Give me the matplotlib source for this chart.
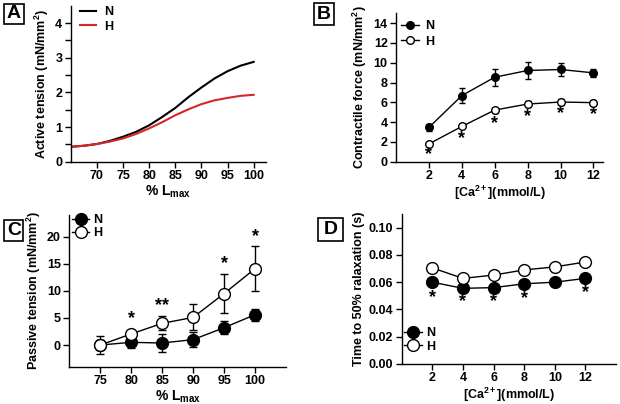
import matplotlib
matplotlib.use("Agg")
import matplotlib.pyplot as plt
from matplotlib.patches import Rectangle
from matplotlib.lines import Line2D

plt.rcParams['font.family'] = ['Liberation Sans', 'DejaVu Sans']
plt.rcParams['font.weight'] = 'bold'
plt.rcParams['axes.labelweight'] = 'bold'
plt.rcParams['mathtext.fontset'] = 'custom'
plt.rcParams['mathtext.rm'] = 'Liberation Sans:bold'
plt.rcParams['mathtext.it'] = 'Liberation Sans:bold'
plt.rcParams['mathtext.bf'] = 'Liberation Sans:bold'

# ---------------- Data ----------------
# Panel A: active tension vs % Lmax
a_x = [65, 67.5, 70, 72.5, 75, 77.5, 80, 82.5, 85, 87.5, 90, 92.5, 95, 97.5, 100]
a_N = [0.43, 0.46, 0.51, 0.60, 0.72, 0.86, 1.05, 1.29, 1.55, 1.86, 2.14, 2.40, 2.61, 2.77, 2.88]
a_H = [0.43, 0.46, 0.51, 0.58, 0.67, 0.80, 0.96, 1.14, 1.34, 1.51, 1.66, 1.77, 1.84, 1.90, 1.93]

# Panel B: contractile force vs [Ca2+]
b_x = [2, 4, 6, 8, 10, 12]
b_N = [3.46, 6.68, 8.54, 9.22, 9.32, 8.98]
b_N_err = [0.40, 0.77, 0.87, 0.86, 0.61, 0.42]
b_H = [1.80, 3.56, 5.22, 5.83, 6.03, 5.97]
b_H_err = [0.15, 0.15, 0.25, 0.30, 0.30, 0.25]
b_star_y = [0.75, 2.37, 3.90, 4.58, 4.85, 4.78]

# Panel C: passive tension vs % Lmax
c_x = [75, 80, 85, 90, 95, 100]
c_N = [0.0, 0.5, 0.37, 1.0, 3.2, 5.6]
c_N_err = [1.0, 1.1, 1.6, 1.4, 1.2, 1.1]
c_H = [0.0, 2.05, 4.0, 5.1, 9.5, 14.1]
c_H_err = [1.6, 0.5, 1.3, 2.4, 3.6, 4.2]
c_star_x = [80, 85, 95, 100]
c_star_txt = ['*', '**', '*', '*']
c_star_y = [4.8, 7.2, 15.0, 20.1]

# Panel D: time to 50% relaxation vs [Ca2+]
d_x = [2, 4, 6, 8, 10, 12]
d_N = [0.0600, 0.0555, 0.0560, 0.0588, 0.0600, 0.0628]
d_H = [0.0705, 0.0628, 0.0652, 0.0690, 0.0712, 0.0748]
d_star_x = [2, 4, 6, 8, 12]
d_star_y = [0.0485, 0.0460, 0.0455, 0.0480, 0.0525]

# ---------------- Figure ----------------
W, H = 620, 404
fig = plt.figure(figsize=(6.2, 4.04), dpi=100)

def ax_px(l, r, t, b):
    return fig.add_axes([l / W, 1 - b / H, (r - l) / W, (b - t) / H])

TICK_FS = 9
LAB_FS = 9
STAR_FS = 13

def style(ax):
    for s in ['top', 'right']:
        ax.spines[s].set_visible(False)
    for s in ['left', 'bottom']:
        ax.spines[s].set_linewidth(1.0)
    ax.tick_params(direction='out', length=4, width=1.0, labelsize=TICK_FS, pad=2)
    ax.tick_params(which='minor', direction='out', length=4, width=1.0)
    for lab in ax.get_xticklabels() + ax.get_yticklabels():
        lab.set_fontweight('bold')

def panel_label(x, y, w, h, txt):
    fig.patches.append(Rectangle((x / W, 1 - (y + h) / H), w / W, h / H,
                                 transform=fig.transFigure, fill=False,
                                 edgecolor='black', linewidth=1.2))
    fig.text((x + w / 2) / W, 1 - (y + h / 2) / H, txt, ha='center', va='center',
             fontsize=14, fontweight='bold')

def mk_handles(ms):
    return [Line2D([], [], color='black', lw=1.0, marker='o', ms=ms, mfc='black', mec='black'),
            Line2D([], [], color='black', lw=1.0, marker='o', ms=ms, mfc='white', mec='black')]

# Panel A
axA = ax_px(70.7, 265.7, 5.7, 161.7)
axA.plot(a_x, a_N, color='black', lw=1.5, label='N')
axA.plot(a_x, a_H, color='#d62728', lw=1.5, label='H')
axA.set_xlim(65, 102.3)
axA.set_ylim(0, 4.5)
axA.set_xticks([70, 75, 80, 85, 90, 95, 100])
axA.set_yticks([0, 1, 2, 3, 4])
axA.set_yticks([0.5, 1.5, 2.5, 3.5], minor=True)
axA.set_ylabel('Active tension (mN/mm$^2$)', fontsize=LAB_FS, labelpad=3)
axA.set_xlabel('% L$_{max}$', fontsize=LAB_FS + 1, labelpad=1)
axA.legend(loc='upper left', bbox_to_anchor=(-0.01, 1.07), frameon=False,
           handlelength=1.3, handletextpad=0.6, labelspacing=0.2, fontsize=LAB_FS)
style(axA)
panel_label(3.5, 4, 20, 20, 'A')

# Panel B
axB = ax_px(396, 603.3, 13.3, 161.7)
axB.errorbar(b_x, b_N, yerr=b_N_err, color='black', marker='o', ms=5.5, mfc='black',
             mec='black', lw=1.0, elinewidth=1.0, capsize=2.5)
axB.errorbar(b_x, b_H, yerr=b_H_err, color='black', marker='o', ms=5.5, mfc='white',
             mec='black', mew=1.0, lw=1.0, elinewidth=1.0, capsize=2.5)
for x, y in zip(b_x, b_star_y):
    axB.text(x, y, '*', ha='center', va='center', fontsize=STAR_FS, fontweight='bold')
axB.set_xlim(0, 12.6)
axB.set_ylim(0, 15)
axB.set_xticks(b_x)
axB.set_yticks([0, 2, 4, 6, 8, 10, 12, 14])
axB.set_ylabel('Contractile force (mN/mm$^2$)', fontsize=LAB_FS, labelpad=3)
axB.set_xlabel('[Ca$^{2+}$](mmol/L)', fontsize=LAB_FS, labelpad=1)
axB.legend(mk_handles(5.5), ['N', 'H'], loc='upper left', bbox_to_anchor=(-0.03, 1.03),
           frameon=False, numpoints=1, handlelength=1.4, handletextpad=0.5,
           labelspacing=0.3, fontsize=LAB_FS)
style(axB)
panel_label(314, 3.5, 19.5, 21.5, 'B')

# Panel C
axC = ax_px(69.3, 286, 215, 366.7)
axC.errorbar(c_x, c_N, yerr=c_N_err, color='black', marker='o', ms=8.5, mfc='black',
             mec='black', lw=1.0, elinewidth=1.0, capsize=3)
axC.errorbar(c_x, c_H, yerr=c_H_err, color='black', marker='o', ms=8.5, mfc='white',
             mec='black', mew=1.0, lw=1.0, elinewidth=1.0, capsize=3)
for x, y, t in zip(c_star_x, c_star_y, c_star_txt):
    axC.text(x, y, t, ha='center', va='center', fontsize=STAR_FS, fontweight='bold')
axC.set_xlim(70, 105)
axC.set_ylim(-4, 24)
axC.set_xticks(c_x)
axC.set_yticks([0, 5, 10, 15, 20])
axC.set_ylabel('Passive tension (mN/mm$^2$)', fontsize=LAB_FS, labelpad=3)
axC.set_xlabel('% L$_{max}$', fontsize=LAB_FS + 1, labelpad=1)
axC.legend(mk_handles(8.5), ['N', 'H'], loc='upper left', bbox_to_anchor=(-0.04, 1.08),
           frameon=False, numpoints=1, handlelength=1.4, handletextpad=0.3,
           labelspacing=0.1, fontsize=LAB_FS)
style(axC)
panel_label(4, 220, 19.5, 20.5, 'C')

# Panel D
axD = ax_px(401.7, 616, 214, 364)
axD.plot(d_x, d_N, color='black', marker='o', ms=8.5, mfc='black', mec='black', lw=1.0)
axD.plot(d_x, d_H, color='black', marker='o', ms=8.5, mfc='white', mec='black',
         mew=1.0, lw=1.0)
for x, y in zip(d_star_x, d_star_y):
    axD.text(x, y, '*', ha='center', va='center', fontsize=STAR_FS, fontweight='bold')
axD.set_xlim(0, 14)
axD.set_ylim(0, 0.11)
axD.set_xticks(d_x)
axD.set_yticks([0, 0.02, 0.04, 0.06, 0.08, 0.10])
axD.set_yticklabels(['0.00', '0.02', '0.04', '0.06', '0.08', '0.10'])
axD.set_ylabel('Time to 50% ralaxation (s)', fontsize=LAB_FS, labelpad=3)
axD.set_xlabel('[Ca$^{2+}$](mmol/L)', fontsize=LAB_FS, labelpad=1)
axD.legend(mk_handles(8.5), ['N', 'H'], loc='lower left', bbox_to_anchor=(-0.04, 0.0),
           frameon=False, numpoints=1, handlelength=1.4, handletextpad=0.3,
           labelspacing=0.1, fontsize=LAB_FS)
style(axD)
panel_label(318, 218, 25, 23, 'D')

fig.savefig('out.png', dpi=100)
